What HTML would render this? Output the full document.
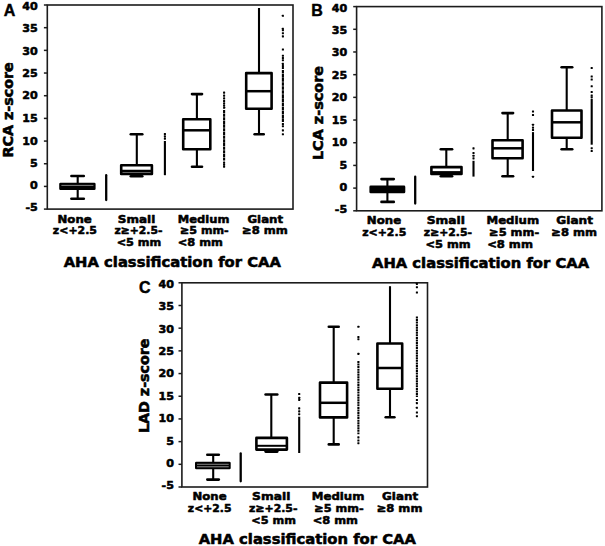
<!DOCTYPE html>
<html lang="en">
<head>
<meta charset="utf-8">
<title>Coronary artery z-scores by AHA classification for CAA</title>
<style>
html, body { margin: 0; padding: 0; background: #fff; }
body { width: 605px; height: 546px; overflow: hidden; }
svg { display: block; }
text { font-family: "DejaVu Sans", "Liberation Sans", sans-serif; font-weight: bold; stroke: #000; stroke-width: 0.55px; stroke-linejoin: round; }
text.letter { font-family: "Liberation Sans", "DejaVu Sans", sans-serif; stroke-width: 0.45px; }
</style>
</head>
<body>
<svg width="605" height="546" viewBox="0 0 605 546" font-family='"DejaVu Sans", "Liberation Sans", sans-serif' font-weight="bold" fill="#000">
<rect x="0" y="0" width="605" height="546" fill="#fff"/>
<g>
<rect x="47.30" y="5.00" width="245.70" height="204.10" fill="none" stroke="#1c1c1c" stroke-width="1.6"/>
<line x1="43.90" y1="5.00" x2="47.30" y2="5.00" stroke="#1c1c1c" stroke-width="1.5" stroke-linecap="butt" />
<text x="37.80" y="10.45" font-size="11.1" text-anchor="end" >40</text>
<line x1="43.90" y1="27.68" x2="47.30" y2="27.68" stroke="#1c1c1c" stroke-width="1.5" stroke-linecap="butt" />
<text x="37.80" y="32.23" font-size="11.1" text-anchor="end" >35</text>
<line x1="43.90" y1="50.36" x2="47.30" y2="50.36" stroke="#1c1c1c" stroke-width="1.5" stroke-linecap="butt" />
<text x="37.80" y="54.71" font-size="11.1" text-anchor="end" >30</text>
<line x1="43.90" y1="73.03" x2="47.30" y2="73.03" stroke="#1c1c1c" stroke-width="1.5" stroke-linecap="butt" />
<text x="37.80" y="77.08" font-size="11.1" text-anchor="end" >25</text>
<line x1="43.90" y1="95.71" x2="47.30" y2="95.71" stroke="#1c1c1c" stroke-width="1.5" stroke-linecap="butt" />
<text x="37.80" y="99.46" font-size="11.1" text-anchor="end" >20</text>
<line x1="43.90" y1="118.39" x2="47.30" y2="118.39" stroke="#1c1c1c" stroke-width="1.5" stroke-linecap="butt" />
<text x="37.80" y="121.94" font-size="11.1" text-anchor="end" >15</text>
<line x1="43.90" y1="141.07" x2="47.30" y2="141.07" stroke="#1c1c1c" stroke-width="1.5" stroke-linecap="butt" />
<text x="37.80" y="144.62" font-size="11.1" text-anchor="end" >10</text>
<line x1="43.90" y1="163.74" x2="47.30" y2="163.74" stroke="#1c1c1c" stroke-width="1.5" stroke-linecap="butt" />
<text x="37.80" y="167.19" font-size="11.1" text-anchor="end" >5</text>
<line x1="43.90" y1="186.42" x2="47.30" y2="186.42" stroke="#1c1c1c" stroke-width="1.5" stroke-linecap="butt" />
<text x="37.80" y="189.37" font-size="11.1" text-anchor="end" >0</text>
<line x1="43.90" y1="209.10" x2="47.30" y2="209.10" stroke="#1c1c1c" stroke-width="1.5" stroke-linecap="butt" />
<text x="37.80" y="211.05" font-size="11.1" text-anchor="end" >-5</text>
<text x="9.60" y="15.80" font-size="16" text-anchor="middle" font-family='"Liberation Sans", "DejaVu Sans", sans-serif' class="letter">A</text>
<text x="0.00" y="0.00" font-size="13.3" text-anchor="start" transform="translate(13.00,157.60) rotate(-90)" textLength="95.40" lengthAdjust="spacingAndGlyphs">RCA z-score</text>
<line x1="77.70" y1="176.00" x2="77.70" y2="183.70" stroke="#000" stroke-width="2.1" stroke-linecap="butt" />
<line x1="77.70" y1="189.10" x2="77.70" y2="198.80" stroke="#000" stroke-width="2.1" stroke-linecap="butt" />
<line x1="71.40" y1="176.00" x2="83.80" y2="176.00" stroke="#000" stroke-width="2.6" stroke-linecap="round" />
<line x1="71.40" y1="198.80" x2="83.80" y2="198.80" stroke="#000" stroke-width="2.6" stroke-linecap="round" />
<rect x="60.50" y="184.00" width="33.80" height="4.80" fill="#000" stroke="#000" stroke-width="2.6" stroke-linejoin="round"/>
<line x1="61.40" y1="185.40" x2="93.40" y2="185.40" stroke="#b8b8b8" stroke-width="0.7" stroke-linecap="butt" />
<line x1="136.80" y1="134.20" x2="136.80" y2="164.90" stroke="#000" stroke-width="2.1" stroke-linecap="butt" />
<line x1="136.80" y1="174.30" x2="136.80" y2="176.30" stroke="#000" stroke-width="2.1" stroke-linecap="butt" />
<line x1="130.80" y1="134.20" x2="142.30" y2="134.20" stroke="#000" stroke-width="2.6" stroke-linecap="round" />
<line x1="130.80" y1="176.30" x2="142.30" y2="176.30" stroke="#000" stroke-width="2.6" stroke-linecap="round" />
<rect x="121.20" y="165.20" width="30.70" height="8.80" fill="#fff" stroke="#000" stroke-width="2.6" stroke-linejoin="round"/>
<rect x="120.90" y="172.70" width="31.30" height="1.60" fill="#000"/>
<line x1="120.90" y1="171.00" x2="152.20" y2="171.00" stroke="#000" stroke-width="2.5" stroke-linecap="butt" />
<line x1="196.90" y1="94.10" x2="196.90" y2="119.00" stroke="#000" stroke-width="2.1" stroke-linecap="butt" />
<line x1="196.90" y1="149.60" x2="196.90" y2="166.70" stroke="#000" stroke-width="2.1" stroke-linecap="butt" />
<line x1="192.00" y1="94.10" x2="202.00" y2="94.10" stroke="#000" stroke-width="2.6" stroke-linecap="round" />
<line x1="192.00" y1="166.70" x2="202.00" y2="166.70" stroke="#000" stroke-width="2.6" stroke-linecap="round" />
<rect x="183.20" y="119.30" width="27.10" height="30.00" fill="#fff" stroke="#000" stroke-width="2.6" stroke-linejoin="round"/>
<line x1="182.90" y1="130.30" x2="210.60" y2="130.30" stroke="#000" stroke-width="2.5" stroke-linecap="butt" />
<line x1="259.00" y1="8.00" x2="259.00" y2="72.80" stroke="#000" stroke-width="2.1" stroke-linecap="butt" />
<line x1="259.00" y1="109.10" x2="259.00" y2="134.30" stroke="#000" stroke-width="2.1" stroke-linecap="butt" />
<line x1="254.60" y1="134.30" x2="263.70" y2="134.30" stroke="#000" stroke-width="2.6" stroke-linecap="round" />
<rect x="246.20" y="73.10" width="25.40" height="35.70" fill="#fff" stroke="#000" stroke-width="2.6" stroke-linejoin="round"/>
<line x1="245.90" y1="91.20" x2="271.90" y2="91.20" stroke="#000" stroke-width="2.5" stroke-linecap="butt" />
<line x1="106.20" y1="175.20" x2="106.20" y2="200.00" stroke="#000" stroke-width="2.3" stroke-linecap="round" />
<line x1="164.90" y1="141.00" x2="164.90" y2="175.20" stroke="#000" stroke-width="2.0999999999999996" stroke-linecap="butt" />
<rect x="163.85" y="132.95" width="2.1" height="2.1" rx="0.4"/>
<rect x="163.85" y="135.35" width="2.1" height="2.1" rx="0.4"/>
<rect x="163.85" y="137.55" width="2.1" height="2.1" rx="0.4"/>
<line x1="224.10" y1="110.00" x2="224.10" y2="160.50" stroke="#000" stroke-width="2.1" stroke-linecap="butt" stroke-dasharray="3.2 0.45"/>
<rect x="223.05" y="91.55" width="2.1" height="2.1" rx="0.4"/>
<rect x="223.05" y="94.55" width="2.1" height="2.1" rx="0.4"/>
<rect x="223.05" y="97.35" width="2.1" height="2.1" rx="0.4"/>
<rect x="223.05" y="99.95" width="2.1" height="2.1" rx="0.4"/>
<rect x="223.05" y="102.35" width="2.1" height="2.1" rx="0.4"/>
<rect x="223.05" y="104.55" width="2.1" height="2.1" rx="0.4"/>
<rect x="223.05" y="106.75" width="2.1" height="2.1" rx="0.4"/>
<rect x="223.05" y="161.55" width="2.1" height="2.1" rx="0.4"/>
<rect x="223.05" y="163.55" width="2.1" height="2.1" rx="0.4"/>
<rect x="223.05" y="165.55" width="2.1" height="2.1" rx="0.4"/>
<line x1="282.90" y1="70.00" x2="282.90" y2="122.00" stroke="#000" stroke-width="2.1" stroke-linecap="butt" stroke-dasharray="3.6 0.45"/>
<rect x="281.85" y="14.75" width="2.1" height="2.1" rx="0.4"/>
<rect x="281.85" y="27.75" width="2.1" height="2.1" rx="0.4"/>
<rect x="281.85" y="29.15" width="2.1" height="2.1" rx="0.4"/>
<rect x="281.85" y="32.15" width="2.1" height="2.1" rx="0.4"/>
<rect x="281.85" y="35.35" width="2.1" height="2.1" rx="0.4"/>
<rect x="281.85" y="48.45" width="2.1" height="2.1" rx="0.4"/>
<rect x="281.85" y="54.65" width="2.1" height="2.1" rx="0.4"/>
<rect x="281.85" y="56.95" width="2.1" height="2.1" rx="0.4"/>
<rect x="281.85" y="59.15" width="2.1" height="2.1" rx="0.4"/>
<rect x="281.85" y="62.85" width="2.1" height="2.1" rx="0.4"/>
<rect x="281.85" y="64.95" width="2.1" height="2.1" rx="0.4"/>
<rect x="281.85" y="66.95" width="2.1" height="2.1" rx="0.4"/>
<rect x="281.85" y="122.95" width="2.1" height="2.1" rx="0.4"/>
<rect x="281.85" y="125.15" width="2.1" height="2.1" rx="0.4"/>
<rect x="281.85" y="129.35" width="2.1" height="2.1" rx="0.4"/>
<rect x="281.85" y="133.25" width="2.1" height="2.1" rx="0.4"/>
<text x="57.55" y="222.50" font-size="11.2" text-anchor="start"  textLength="34.20" lengthAdjust="spacingAndGlyphs">None</text>
<text x="52.85" y="234.35" font-size="11.2" text-anchor="start"  textLength="44.10" lengthAdjust="spacingAndGlyphs">z&lt;+2.5</text>
<text x="117.75" y="222.50" font-size="11.2" text-anchor="start"  textLength="37.60" lengthAdjust="spacingAndGlyphs">Small</text>
<text x="114.45" y="234.35" font-size="11.2" text-anchor="start"  textLength="48.00" lengthAdjust="spacingAndGlyphs">z≥+2.5-</text>
<text x="116.65" y="246.20" font-size="11.2" text-anchor="start"  textLength="44.70" lengthAdjust="spacingAndGlyphs">&lt;5 mm</text>
<text x="177.85" y="222.50" font-size="11.2" text-anchor="start"  textLength="51.60" lengthAdjust="spacingAndGlyphs">Medium</text>
<text x="179.95" y="234.35" font-size="11.2" text-anchor="start"  textLength="48.80" lengthAdjust="spacingAndGlyphs">≥5 mm-</text>
<text x="177.85" y="246.20" font-size="11.2" text-anchor="start"  textLength="45.10" lengthAdjust="spacingAndGlyphs">&lt;8 mm</text>
<text x="247.45" y="222.50" font-size="11.2" text-anchor="start"  textLength="35.70" lengthAdjust="spacingAndGlyphs">Giant</text>
<text x="242.05" y="234.35" font-size="11.2" text-anchor="start"  textLength="45.80" lengthAdjust="spacingAndGlyphs">≥8 mm</text>
<text x="63.70" y="266.50" font-size="14" text-anchor="start"  textLength="217.20" lengthAdjust="spacingAndGlyphs">AHA classification for CAA</text>
</g>
<g>
<rect x="356.60" y="6.60" width="245.30" height="204.20" fill="none" stroke="#1c1c1c" stroke-width="1.6"/>
<line x1="353.20" y1="6.60" x2="356.60" y2="6.60" stroke="#1c1c1c" stroke-width="1.5" stroke-linecap="butt" />
<text x="347.20" y="12.05" font-size="11.1" text-anchor="end" >40</text>
<line x1="353.20" y1="29.29" x2="356.60" y2="29.29" stroke="#1c1c1c" stroke-width="1.5" stroke-linecap="butt" />
<text x="347.20" y="33.84" font-size="11.1" text-anchor="end" >35</text>
<line x1="353.20" y1="51.98" x2="356.60" y2="51.98" stroke="#1c1c1c" stroke-width="1.5" stroke-linecap="butt" />
<text x="347.20" y="56.33" font-size="11.1" text-anchor="end" >30</text>
<line x1="353.20" y1="74.67" x2="356.60" y2="74.67" stroke="#1c1c1c" stroke-width="1.5" stroke-linecap="butt" />
<text x="347.20" y="78.72" font-size="11.1" text-anchor="end" >25</text>
<line x1="353.20" y1="97.36" x2="356.60" y2="97.36" stroke="#1c1c1c" stroke-width="1.5" stroke-linecap="butt" />
<text x="347.20" y="101.11" font-size="11.1" text-anchor="end" >20</text>
<line x1="353.20" y1="120.04" x2="356.60" y2="120.04" stroke="#1c1c1c" stroke-width="1.5" stroke-linecap="butt" />
<text x="347.20" y="123.59" font-size="11.1" text-anchor="end" >15</text>
<line x1="353.20" y1="142.73" x2="356.60" y2="142.73" stroke="#1c1c1c" stroke-width="1.5" stroke-linecap="butt" />
<text x="347.20" y="146.28" font-size="11.1" text-anchor="end" >10</text>
<line x1="353.20" y1="165.42" x2="356.60" y2="165.42" stroke="#1c1c1c" stroke-width="1.5" stroke-linecap="butt" />
<text x="347.20" y="168.87" font-size="11.1" text-anchor="end" >5</text>
<line x1="353.20" y1="188.11" x2="356.60" y2="188.11" stroke="#1c1c1c" stroke-width="1.5" stroke-linecap="butt" />
<text x="347.20" y="191.06" font-size="11.1" text-anchor="end" >0</text>
<line x1="353.20" y1="210.80" x2="356.60" y2="210.80" stroke="#1c1c1c" stroke-width="1.5" stroke-linecap="butt" />
<text x="347.20" y="212.75" font-size="11.1" text-anchor="end" >-5</text>
<text x="317.10" y="16.40" font-size="16" text-anchor="middle" font-family='"Liberation Sans", "DejaVu Sans", sans-serif' class="letter">B</text>
<text x="0.00" y="0.00" font-size="13.3" text-anchor="start" transform="translate(322.60,160.10) rotate(-90)" textLength="94.10" lengthAdjust="spacingAndGlyphs">LCA z-score</text>
<line x1="387.40" y1="179.10" x2="387.40" y2="186.60" stroke="#000" stroke-width="2.1" stroke-linecap="butt" />
<line x1="387.40" y1="192.20" x2="387.40" y2="201.90" stroke="#000" stroke-width="2.1" stroke-linecap="butt" />
<line x1="381.50" y1="179.10" x2="393.80" y2="179.10" stroke="#000" stroke-width="2.6" stroke-linecap="round" />
<line x1="381.50" y1="201.90" x2="393.80" y2="201.90" stroke="#000" stroke-width="2.6" stroke-linecap="round" />
<rect x="370.70" y="186.90" width="33.30" height="5.00" fill="#000" stroke="#000" stroke-width="2.6" stroke-linejoin="round"/>
<line x1="446.30" y1="149.30" x2="446.30" y2="166.80" stroke="#000" stroke-width="2.1" stroke-linecap="butt" />
<line x1="446.30" y1="174.30" x2="446.30" y2="176.20" stroke="#000" stroke-width="2.1" stroke-linecap="butt" />
<line x1="440.80" y1="149.30" x2="452.10" y2="149.30" stroke="#000" stroke-width="2.6" stroke-linecap="round" />
<line x1="440.80" y1="176.20" x2="452.10" y2="176.20" stroke="#000" stroke-width="2.6" stroke-linecap="round" />
<rect x="431.40" y="167.10" width="30.10" height="6.90" fill="#fff" stroke="#000" stroke-width="2.6" stroke-linejoin="round"/>
<rect x="431.10" y="171.10" width="30.70" height="3.20" fill="#000"/>
<line x1="507.70" y1="113.10" x2="507.70" y2="140.00" stroke="#000" stroke-width="2.1" stroke-linecap="butt" />
<line x1="507.70" y1="158.60" x2="507.70" y2="176.30" stroke="#000" stroke-width="2.1" stroke-linecap="butt" />
<line x1="502.50" y1="113.10" x2="513.10" y2="113.10" stroke="#000" stroke-width="2.6" stroke-linecap="round" />
<line x1="502.50" y1="176.30" x2="513.10" y2="176.30" stroke="#000" stroke-width="2.6" stroke-linecap="round" />
<rect x="492.50" y="140.30" width="30.10" height="18.00" fill="#fff" stroke="#000" stroke-width="2.6" stroke-linejoin="round"/>
<line x1="492.20" y1="148.30" x2="522.90" y2="148.30" stroke="#000" stroke-width="2.5" stroke-linecap="butt" />
<line x1="566.70" y1="67.30" x2="566.70" y2="110.20" stroke="#000" stroke-width="2.1" stroke-linecap="butt" />
<line x1="566.70" y1="138.00" x2="566.70" y2="149.30" stroke="#000" stroke-width="2.1" stroke-linecap="butt" />
<line x1="561.60" y1="67.30" x2="572.20" y2="67.30" stroke="#000" stroke-width="2.6" stroke-linecap="round" />
<line x1="561.60" y1="149.30" x2="572.20" y2="149.30" stroke="#000" stroke-width="2.6" stroke-linecap="round" />
<rect x="552.00" y="110.50" width="29.50" height="27.20" fill="#fff" stroke="#000" stroke-width="2.6" stroke-linejoin="round"/>
<line x1="551.70" y1="122.30" x2="581.80" y2="122.30" stroke="#000" stroke-width="2.5" stroke-linecap="butt" />
<line x1="415.20" y1="176.70" x2="415.20" y2="203.50" stroke="#000" stroke-width="2.3" stroke-linecap="round" />
<line x1="473.50" y1="160.80" x2="473.50" y2="176.60" stroke="#000" stroke-width="2.0999999999999996" stroke-linecap="butt" />
<rect x="472.45" y="147.35" width="2.1" height="2.1" rx="0.4"/>
<rect x="472.45" y="151.95" width="2.1" height="2.1" rx="0.4"/>
<rect x="472.45" y="154.75" width="2.1" height="2.1" rx="0.4"/>
<rect x="472.45" y="157.35" width="2.1" height="2.1" rx="0.4"/>
<line x1="533.00" y1="132.10" x2="533.00" y2="171.00" stroke="#000" stroke-width="2.0999999999999996" stroke-linecap="butt" />
<rect x="531.95" y="110.45" width="2.1" height="2.1" rx="0.4"/>
<rect x="531.95" y="113.95" width="2.1" height="2.1" rx="0.4"/>
<rect x="531.95" y="123.75" width="2.1" height="2.1" rx="0.4"/>
<rect x="531.95" y="126.55" width="2.1" height="2.1" rx="0.4"/>
<rect x="531.95" y="128.95" width="2.1" height="2.1" rx="0.4"/>
<rect x="531.95" y="175.75" width="2.1" height="2.1" rx="0.4"/>
<line x1="591.70" y1="99.00" x2="591.70" y2="144.70" stroke="#000" stroke-width="2.0999999999999996" stroke-linecap="butt" />
<rect x="590.65" y="66.95" width="2.1" height="2.1" rx="0.4"/>
<rect x="590.65" y="75.45" width="2.1" height="2.1" rx="0.4"/>
<rect x="590.65" y="78.45" width="2.1" height="2.1" rx="0.4"/>
<rect x="590.65" y="85.25" width="2.1" height="2.1" rx="0.4"/>
<rect x="590.65" y="90.95" width="2.1" height="2.1" rx="0.4"/>
<rect x="590.65" y="94.45" width="2.1" height="2.1" rx="0.4"/>
<rect x="590.65" y="96.35" width="2.1" height="2.1" rx="0.4"/>
<rect x="590.65" y="147.15" width="2.1" height="2.1" rx="0.4"/>
<rect x="590.65" y="149.95" width="2.1" height="2.1" rx="0.4"/>
<text x="366.85" y="224.00" font-size="11.2" text-anchor="start"  textLength="34.30" lengthAdjust="spacingAndGlyphs">None</text>
<text x="362.15" y="235.85" font-size="11.2" text-anchor="start"  textLength="44.10" lengthAdjust="spacingAndGlyphs">z&lt;+2.5</text>
<text x="426.65" y="224.00" font-size="11.2" text-anchor="start"  textLength="38.30" lengthAdjust="spacingAndGlyphs">Small</text>
<text x="423.85" y="235.85" font-size="11.2" text-anchor="start"  textLength="48.20" lengthAdjust="spacingAndGlyphs">z≥+2.5-</text>
<text x="425.55" y="247.70" font-size="11.2" text-anchor="start"  textLength="45.20" lengthAdjust="spacingAndGlyphs">&lt;5 mm</text>
<text x="486.45" y="224.00" font-size="11.2" text-anchor="start"  textLength="52.70" lengthAdjust="spacingAndGlyphs">Medium</text>
<text x="489.05" y="235.85" font-size="11.2" text-anchor="start"  textLength="50.10" lengthAdjust="spacingAndGlyphs">≥5 mm-</text>
<text x="487.15" y="247.70" font-size="11.2" text-anchor="start"  textLength="45.80" lengthAdjust="spacingAndGlyphs">&lt;8 mm</text>
<text x="556.25" y="224.00" font-size="11.2" text-anchor="start"  textLength="36.80" lengthAdjust="spacingAndGlyphs">Giant</text>
<text x="551.35" y="235.85" font-size="11.2" text-anchor="start"  textLength="45.80" lengthAdjust="spacingAndGlyphs">≥8 mm</text>
<text x="372.00" y="268.20" font-size="14" text-anchor="start"  textLength="217.10" lengthAdjust="spacingAndGlyphs">AHA classification for CAA</text>
</g>
<g>
<rect x="181.90" y="282.80" width="245.60" height="204.20" fill="none" stroke="#1c1c1c" stroke-width="1.6"/>
<line x1="178.50" y1="282.80" x2="181.90" y2="282.80" stroke="#1c1c1c" stroke-width="1.5" stroke-linecap="butt" />
<text x="173.90" y="288.25" font-size="11.1" text-anchor="end" >40</text>
<line x1="178.50" y1="305.49" x2="181.90" y2="305.49" stroke="#1c1c1c" stroke-width="1.5" stroke-linecap="butt" />
<text x="173.90" y="310.04" font-size="11.1" text-anchor="end" >35</text>
<line x1="178.50" y1="328.18" x2="181.90" y2="328.18" stroke="#1c1c1c" stroke-width="1.5" stroke-linecap="butt" />
<text x="173.90" y="332.53" font-size="11.1" text-anchor="end" >30</text>
<line x1="178.50" y1="350.87" x2="181.90" y2="350.87" stroke="#1c1c1c" stroke-width="1.5" stroke-linecap="butt" />
<text x="173.90" y="354.92" font-size="11.1" text-anchor="end" >25</text>
<line x1="178.50" y1="373.56" x2="181.90" y2="373.56" stroke="#1c1c1c" stroke-width="1.5" stroke-linecap="butt" />
<text x="173.90" y="377.31" font-size="11.1" text-anchor="end" >20</text>
<line x1="178.50" y1="396.24" x2="181.90" y2="396.24" stroke="#1c1c1c" stroke-width="1.5" stroke-linecap="butt" />
<text x="173.90" y="399.79" font-size="11.1" text-anchor="end" >15</text>
<line x1="178.50" y1="418.93" x2="181.90" y2="418.93" stroke="#1c1c1c" stroke-width="1.5" stroke-linecap="butt" />
<text x="173.90" y="422.48" font-size="11.1" text-anchor="end" >10</text>
<line x1="178.50" y1="441.62" x2="181.90" y2="441.62" stroke="#1c1c1c" stroke-width="1.5" stroke-linecap="butt" />
<text x="173.90" y="445.07" font-size="11.1" text-anchor="end" >5</text>
<line x1="178.50" y1="464.31" x2="181.90" y2="464.31" stroke="#1c1c1c" stroke-width="1.5" stroke-linecap="butt" />
<text x="173.90" y="467.26" font-size="11.1" text-anchor="end" >0</text>
<line x1="178.50" y1="487.00" x2="181.90" y2="487.00" stroke="#1c1c1c" stroke-width="1.5" stroke-linecap="butt" />
<text x="173.90" y="488.95" font-size="11.1" text-anchor="end" >-5</text>
<text x="144.70" y="293.20" font-size="16" text-anchor="middle" font-family='"Liberation Sans", "DejaVu Sans", sans-serif' class="letter">C</text>
<text x="0.00" y="0.00" font-size="13.3" text-anchor="start" transform="translate(148.90,433.10) rotate(-90)" textLength="94.60" lengthAdjust="spacingAndGlyphs">LAD z-score</text>
<line x1="213.20" y1="454.80" x2="213.20" y2="462.80" stroke="#000" stroke-width="2.1" stroke-linecap="butt" />
<line x1="213.20" y1="468.30" x2="213.20" y2="479.60" stroke="#000" stroke-width="2.1" stroke-linecap="butt" />
<line x1="207.30" y1="454.80" x2="218.80" y2="454.80" stroke="#000" stroke-width="2.6" stroke-linecap="round" />
<line x1="207.30" y1="479.60" x2="218.80" y2="479.60" stroke="#000" stroke-width="2.6" stroke-linecap="round" />
<rect x="196.30" y="463.10" width="33.10" height="4.90" fill="#fff" stroke="#000" stroke-width="2.6" stroke-linejoin="round"/>
<rect x="197.00" y="463.80" width="31.70" height="3.50" fill="#8a8a8a"/>
<line x1="196.00" y1="465.60" x2="229.70" y2="465.60" stroke="#000" stroke-width="1.5" stroke-linecap="butt" />
<line x1="271.30" y1="394.50" x2="271.30" y2="437.60" stroke="#000" stroke-width="2.1" stroke-linecap="butt" />
<line x1="271.30" y1="449.90" x2="271.30" y2="451.60" stroke="#000" stroke-width="2.1" stroke-linecap="butt" />
<line x1="265.60" y1="394.50" x2="277.30" y2="394.50" stroke="#000" stroke-width="2.6" stroke-linecap="round" />
<line x1="265.60" y1="451.60" x2="277.30" y2="451.60" stroke="#000" stroke-width="2.6" stroke-linecap="round" />
<rect x="256.40" y="437.90" width="30.50" height="11.70" fill="#fff" stroke="#000" stroke-width="2.6" stroke-linejoin="round"/>
<line x1="256.10" y1="445.80" x2="287.20" y2="445.80" stroke="#000" stroke-width="2.0" stroke-linecap="butt" />
<line x1="333.70" y1="326.80" x2="333.70" y2="382.30" stroke="#000" stroke-width="2.1" stroke-linecap="butt" />
<line x1="333.70" y1="417.70" x2="333.70" y2="444.40" stroke="#000" stroke-width="2.1" stroke-linecap="butt" />
<line x1="328.80" y1="326.80" x2="338.70" y2="326.80" stroke="#000" stroke-width="2.6" stroke-linecap="round" />
<line x1="328.80" y1="444.40" x2="338.70" y2="444.40" stroke="#000" stroke-width="2.6" stroke-linecap="round" />
<rect x="320.00" y="382.60" width="27.10" height="34.80" fill="#fff" stroke="#000" stroke-width="2.6" stroke-linejoin="round"/>
<line x1="319.70" y1="402.80" x2="347.40" y2="402.80" stroke="#000" stroke-width="2.5" stroke-linecap="butt" />
<line x1="390.00" y1="286.20" x2="390.00" y2="343.20" stroke="#000" stroke-width="2.1" stroke-linecap="butt" />
<line x1="390.00" y1="389.00" x2="390.00" y2="417.30" stroke="#000" stroke-width="2.1" stroke-linecap="butt" />
<line x1="385.70" y1="417.30" x2="394.40" y2="417.30" stroke="#000" stroke-width="2.6" stroke-linecap="round" />
<rect x="377.40" y="343.50" width="24.80" height="45.20" fill="#fff" stroke="#000" stroke-width="2.6" stroke-linejoin="round"/>
<line x1="377.10" y1="368.00" x2="402.50" y2="368.00" stroke="#000" stroke-width="2.5" stroke-linecap="butt" />
<line x1="240.70" y1="453.40" x2="240.70" y2="481.30" stroke="#000" stroke-width="2.3" stroke-linecap="round" />
<line x1="299.20" y1="416.70" x2="299.20" y2="453.00" stroke="#000" stroke-width="2.0999999999999996" stroke-linecap="butt" />
<rect x="298.15" y="392.95" width="2.1" height="2.1" rx="0.4"/>
<rect x="298.15" y="396.85" width="2.1" height="2.1" rx="0.4"/>
<rect x="298.15" y="398.85" width="2.1" height="2.1" rx="0.4"/>
<rect x="298.15" y="407.35" width="2.1" height="2.1" rx="0.4"/>
<rect x="298.15" y="410.35" width="2.1" height="2.1" rx="0.4"/>
<rect x="298.15" y="413.15" width="2.1" height="2.1" rx="0.4"/>
<line x1="358.40" y1="361.00" x2="358.40" y2="434.30" stroke="#000" stroke-width="2.1" stroke-linecap="butt" stroke-dasharray="2.0 0.55"/>
<rect x="357.35" y="325.75" width="2.1" height="2.1" rx="0.4"/>
<rect x="357.35" y="335.95" width="2.1" height="2.1" rx="0.4"/>
<rect x="357.35" y="338.15" width="2.1" height="2.1" rx="0.4"/>
<rect x="357.35" y="352.85" width="2.1" height="2.1" rx="0.4"/>
<rect x="357.35" y="436.35" width="2.1" height="2.1" rx="0.4"/>
<rect x="357.35" y="439.45" width="2.1" height="2.1" rx="0.4"/>
<rect x="357.35" y="442.15" width="2.1" height="2.1" rx="0.4"/>
<line x1="416.90" y1="316.50" x2="416.90" y2="397.00" stroke="#000" stroke-width="2.1" stroke-linecap="butt" stroke-dasharray="2.0 0.55"/>
<rect x="415.85" y="282.85" width="2.1" height="2.1" rx="0.4"/>
<rect x="415.85" y="286.15" width="2.1" height="2.1" rx="0.4"/>
<rect x="415.85" y="291.45" width="2.1" height="2.1" rx="0.4"/>
<rect x="415.85" y="398.95" width="2.1" height="2.1" rx="0.4"/>
<rect x="415.85" y="402.05" width="2.1" height="2.1" rx="0.4"/>
<rect x="415.85" y="406.75" width="2.1" height="2.1" rx="0.4"/>
<rect x="415.85" y="411.45" width="2.1" height="2.1" rx="0.4"/>
<rect x="415.85" y="415.15" width="2.1" height="2.1" rx="0.4"/>
<text x="192.55" y="500.10" font-size="11.2" text-anchor="start"  textLength="34.00" lengthAdjust="spacingAndGlyphs">None</text>
<text x="187.85" y="511.95" font-size="11.2" text-anchor="start"  textLength="43.60" lengthAdjust="spacingAndGlyphs">z&lt;+2.5</text>
<text x="252.05" y="500.10" font-size="11.2" text-anchor="start"  textLength="38.30" lengthAdjust="spacingAndGlyphs">Small</text>
<text x="249.05" y="511.95" font-size="11.2" text-anchor="start"  textLength="48.40" lengthAdjust="spacingAndGlyphs">z≥+2.5-</text>
<text x="251.25" y="523.80" font-size="11.2" text-anchor="start"  textLength="44.70" lengthAdjust="spacingAndGlyphs">&lt;5 mm</text>
<text x="311.75" y="500.10" font-size="11.2" text-anchor="start"  textLength="52.70" lengthAdjust="spacingAndGlyphs">Medium</text>
<text x="314.35" y="511.95" font-size="11.2" text-anchor="start"  textLength="49.40" lengthAdjust="spacingAndGlyphs">≥5 mm-</text>
<text x="312.65" y="523.80" font-size="11.2" text-anchor="start"  textLength="45.30" lengthAdjust="spacingAndGlyphs">&lt;8 mm</text>
<text x="382.05" y="500.10" font-size="11.2" text-anchor="start"  textLength="36.10" lengthAdjust="spacingAndGlyphs">Giant</text>
<text x="376.65" y="511.95" font-size="11.2" text-anchor="start"  textLength="45.80" lengthAdjust="spacingAndGlyphs">≥8 mm</text>
<text x="198.70" y="543.90" font-size="14" text-anchor="start"  textLength="217.20" lengthAdjust="spacingAndGlyphs">AHA classification for CAA</text>
</g>
</svg>
</body>
</html>
